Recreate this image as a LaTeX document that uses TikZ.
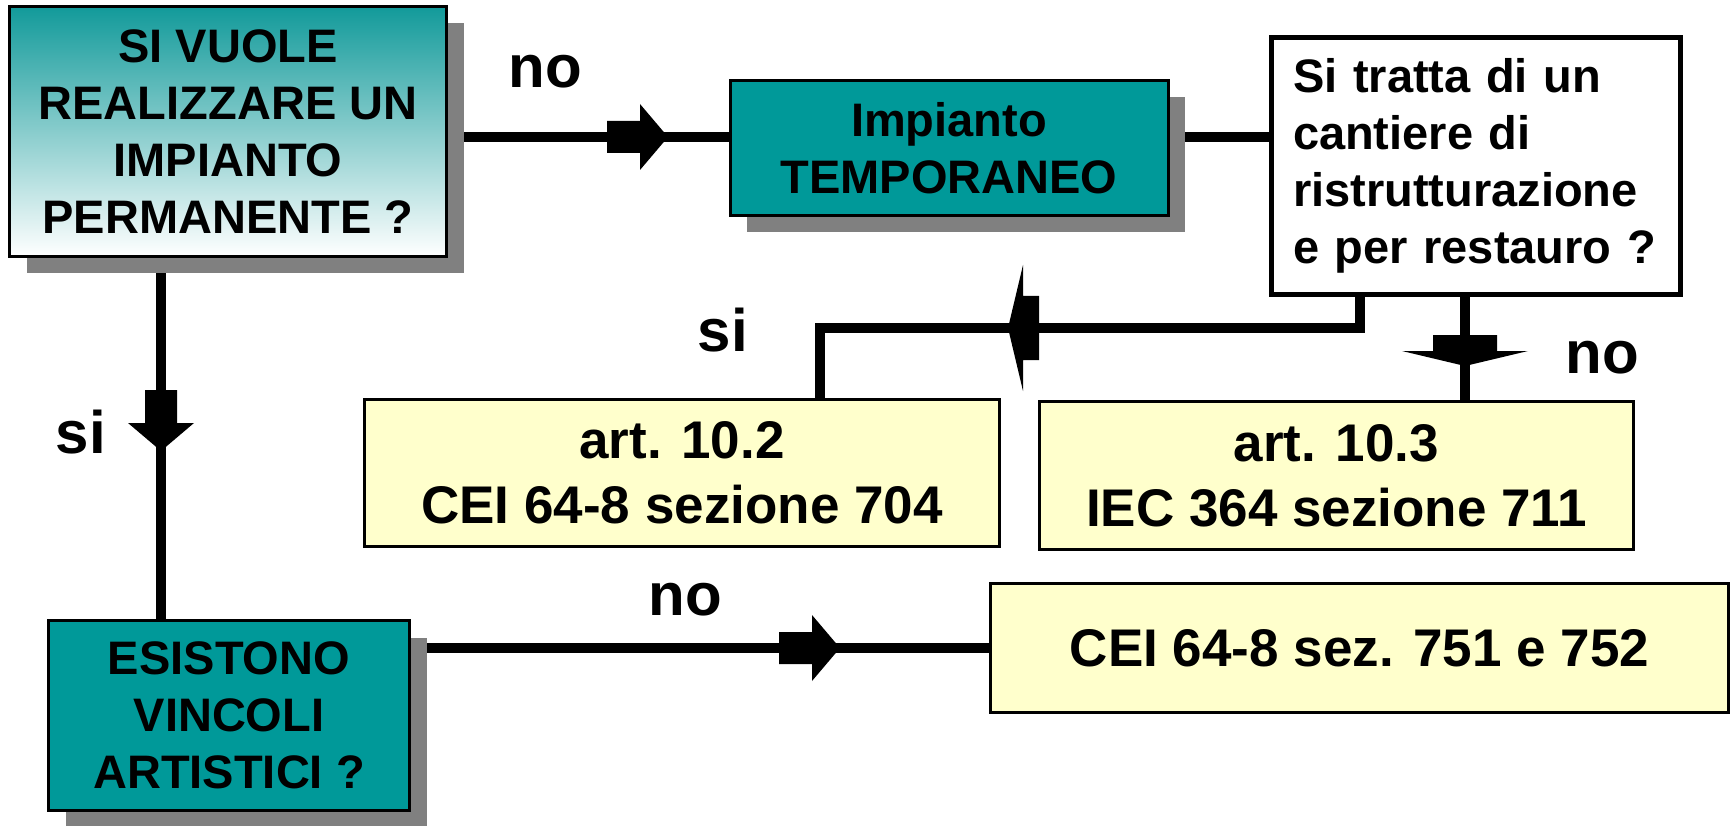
\documentclass[tikz,border=0pt]{standalone}
\usepackage{fontspec}
\setmainfont{Liberation Sans}
\usetikzlibrary{shadows}
\definecolor{TealBox}{RGB}{0,153,153}
\definecolor{TealTop}{RGB}{18,154,154}
\definecolor{PaleYellow}{RGB}{255,255,204}
\definecolor{ShadowGray}{RGB}{128,128,128}
\pgfdeclarelayer{background}
\pgfsetlayers{background,main}
\tikzset{
  tealbox/.style={
    draw=black,
    line width=3pt,
    fill=TealBox,
    inner sep=0pt,
    align=center,
    font=\fontsize{47}{57}\selectfont\bfseries,
    drop shadow={shadow xshift=17pt,shadow yshift=-17pt,fill=ShadowGray,opacity=1}
  },
  gradbox/.style={
    tealbox,
    top color=TealTop,
    bottom color=white
  },
  questbox/.style={
    draw=black,
    line width=5pt,
    fill=white,
    inner sep=0pt,
    align=left,
    font=\fontsize{47}{57}\selectfont\bfseries
  },
  normbox/.style={
    draw=black,
    line width=2.5pt,
    fill=PaleYellow,
    inner sep=0pt,
    align=center,
    font=\fontsize{53}{65}\selectfont\bfseries
  },
  answer/.style={
    inner sep=0pt,
    anchor=base,
    font=\fontsize{60}{72}\selectfont\bfseries
  },
  conn/.style={line width=10pt,draw=black},
  blockarrow/.pic={
    \fill (-61,-16) -- (-28,-16) -- (-28,-33) -- (0,0) -- (-28,33) -- (-28,16) -- (-61,16) -- cycle;
  },
  flatarrow/.pic={
    \fill (-31,-32) -- (-15,-32) -- (-15,-63) -- (0,0) -- (-15,63) -- (-15,32) -- (-31,32) -- cycle;
  }
}
\begin{document}
\begin{tikzpicture}[x=1pt,y=-1pt]
  \useasboundingbox (0,0) rectangle (1732,826);
  \node[gradbox,minimum width=437pt,minimum height=250pt] (perm) at (228,131.5) {SI VUOLE\\REALIZZARE UN\\IMPIANTO\\PERMANENTE ?};
  \node[tealbox,minimum width=438pt,minimum height=135pt] (temp) at (949,148) {Impianto\\TEMPORANEO};
  \node[questbox,minimum width=409pt,minimum height=257pt,text width=366pt] (cant) at (1476,166) {Si tratta di un\\cantiere di\\ristrutturazione\\e per restauro ?};
  \node[normbox,minimum width=635pt,minimum height=147pt] (sez704) at (682,473) {art. 10.2\\CEI 64-8 sezione 704};
  \node[normbox,minimum width=594pt,minimum height=148pt] (sez711) at (1336.5,475.5) {art. 10.3\\IEC 364 sezione 711};
  \node[tealbox,minimum width=361pt,minimum height=190pt] (vinc) at (229,715.5) {ESISTONO\\VINCOLI\\ARTISTICI ?};
  \node[normbox,minimum width=738pt,minimum height=129pt] (sez751) at (1359.5,648) {CEI 64-8 sez. 751 e 752};

  \coordinate (toprow) at (0,137);
  \coordinate (leftcol) at (161,0);
  \coordinate (sicorner) at (1360,328);
  \coordinate (sidrop) at (820,328);
  \coordinate (nocol) at (1465,0);

  \begin{pgfonlayer}{background}
    \draw[conn] (perm.east |- toprow) -- (temp.west |- toprow);
    \draw[conn] (temp.east |- toprow) -- (cant.west |- toprow);
    \draw[conn] (cant.south -| sicorner) -- (sicorner) -- (sidrop) -- (sez704.north -| sidrop);
    \draw[conn] (cant.south -| nocol) -- (sez711.north -| nocol);
    \draw[conn] (perm.south -| leftcol) -- (vinc.north -| leftcol);
    \draw[conn] (vinc.east |- sez751.west) -- (sez751.west);
  \end{pgfonlayer}

  \pic at (668,137) {blockarrow};
  \pic at (840,648) {blockarrow};
  \pic[rotate=-90] at (161,451) {blockarrow};
  \pic[rotate=180] at (1008,328) {flatarrow};
  \pic[rotate=-90] at (1465,366) {flatarrow};

  \node[answer] (notemp) at (545,88) {no};
  \node[answer] (sicant) at (723,352) {si};
  \node[answer] (nocant) at (1602,373) {no};
  \node[answer] (siperm) at (81,453) {si};
  \node[answer] (novinc) at (685,615) {no};
\end{tikzpicture}
\end{document}
